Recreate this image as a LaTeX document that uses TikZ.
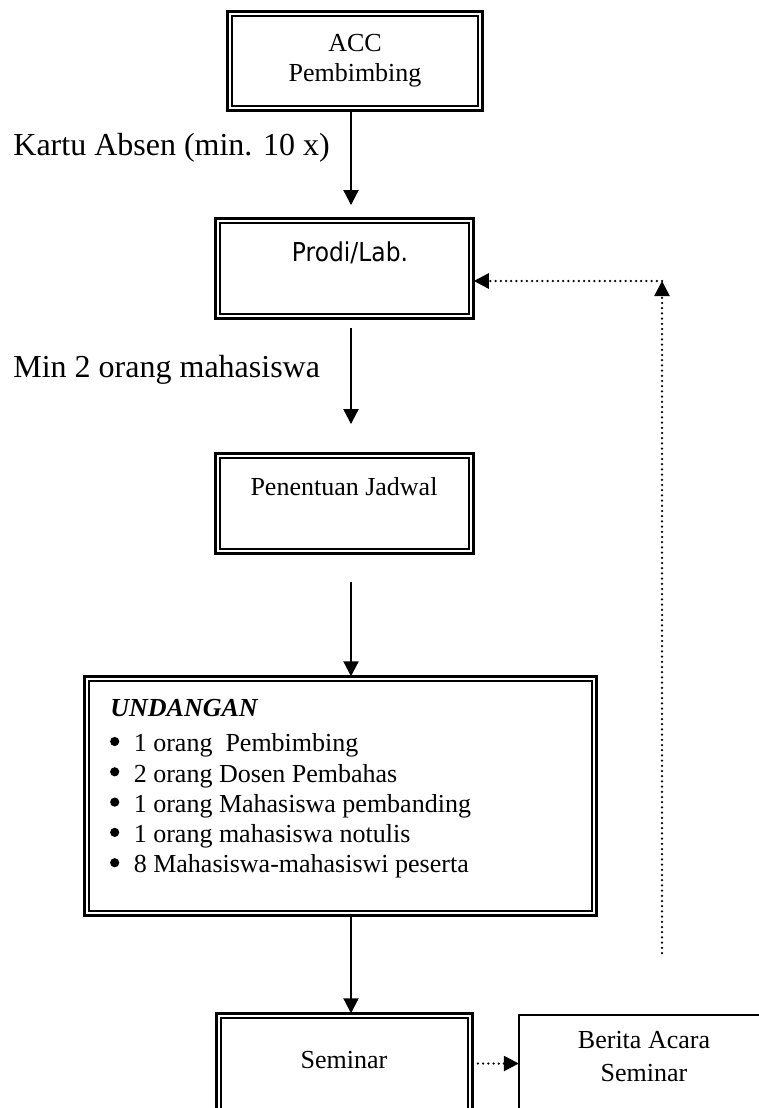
\documentclass[tikz,border=0pt]{standalone}
\usepackage{fontspec}
\setmainfont{Liberation Serif}
\newfontfamily\tahoma[FakeStretch=0.9]{DejaVu Sans}
\usetikzlibrary{arrows.meta}
\newcommand\inbox[1]{\draw[line width=1pt] ([shift={(2.5pt,2.5pt)}]#1.south west) rectangle ([shift={(-2.5pt,-2.5pt)}]#1.north east);}
\newcommand\bulat[1]{\fill ([shift={(2.35pt,5.1pt)}]#1.base west) circle (2.3pt);}
\begin{document}
\begin{tikzpicture}[x=0.5pt,y=-0.5pt,
  box/.style={draw, line width=1.3pt, inner sep=0pt, outer sep=0pt, align=center, font=\fontsize{13}{15}\selectfont},
  sbox/.style={draw, line width=0.8pt, inner sep=0pt, outer sep=0pt},
  txt/.style={inner sep=0pt, font=\fontsize{13}{15}\selectfont},
  item/.style={inner sep=0pt, anchor=base west, font=\fontsize{13}{15}\selectfont},
  lab/.style={inner sep=0pt, anchor=base west, font=\fontsize{16}{19}\selectfont},
  flow/.style={line width=1.1pt, -{Triangle[length=7.5pt,width=7.5pt]}},
  dots/.style={line width=1.25pt, dash pattern=on 0pt off 2.6pt, line cap=round, -{Triangle[length=7.5pt,width=7.5pt]}},
]
\useasboundingbox (0,0) rectangle (759,1108);
\clip (0,0) rectangle (759,1108);

% boxes
\node[box, minimum width=127.75pt, minimum height=49.75pt] (acc) at (355,61) {ACC\\Pembimbing};
\inbox{acc}
\node[box, minimum width=129.25pt, minimum height=50.25pt] (prodi) at (344.5,268.5) {};
\inbox{prodi}
\node[txt, anchor=base, font=\tahoma\fontsize{13}{15}\selectfont] (prodit) at (350,261) {Prodi/Lab.};
\node[box, minimum width=129.25pt, minimum height=50.25pt] (pen) at (344.5,503.5) {};
\inbox{pen}
\node[txt, anchor=base] (pent) at (344,495) {Penentuan Jadwal};
\node[box, minimum width=256.25pt, minimum height=119.75pt] (und) at (340.5,796) {};
\inbox{und}
\node[item] (u0) at (110,716) {\textbf{\textit{UNDANGAN}}};
\node[item] (u1) at (110,751.7) {\hspace{11.7pt}1 orang~ Pembimbing};
\node[item] (u2) at (110,782) {\hspace{11.7pt}2 orang Dosen Pembahas};
\node[item] (u3) at (110,812.3) {\hspace{11.7pt}1 orang Mahasiswa pembanding};
\node[item] (u4) at (110,842.6) {\hspace{11.7pt}1 orang mahasiswa notulis};
\node[item] (u5) at (110,872.9) {\hspace{11.7pt}8 Mahasiswa-mahasiswi peserta};
\bulat{u1}\bulat{u2}\bulat{u3}\bulat{u4}\bulat{u5}
\node[box, minimum width=128.25pt, minimum height=50.25pt] (sem) at (344.5,1063.5) {};
\inbox{sem}
\node[txt, anchor=base] (semt) at (344,1068) {Seminar};
\node[sbox, minimum width=125.5pt, minimum height=50pt] (ber) at (644.3,1064.8) {};
\node[txt, align=center, font=\fontsize{13}{16.5}\selectfont] (bert) at (644,1056.75) {Berita Acara\\Seminar};

% labels
\node[lab] (l1) at (13,155) {Kartu Absen (min. 10 x)};
\node[lab] (l2) at (13,377) {Min 2 orang mahasiswa};

% flow arrows
\coordinate (spine) at (351,0);
\draw[flow, shorten >=6.6pt] (acc.south -| spine) -- (prodi.north -| spine);
\draw[flow, shorten <=4.6pt, shorten >=14.6pt] (prodi.south -| spine) -- (pen.north -| spine);
\draw[flow, shorten <=14.1pt] (pen.south -| spine) -- (und.north -| spine);
\draw[flow] (und.south -| spine) -- (sem.north -| spine);

% dotted arrows
\draw[dots] (sem.east) -- (sem.east -| ber.west);
\coordinate (fb0) at (662,953);
\coordinate (fb1) at (662,281);
\draw[dots] (fb0) -- (fb1);
\draw[dots] (fb1) -- (fb1 -| prodi.east);
\end{tikzpicture}
\end{document}
